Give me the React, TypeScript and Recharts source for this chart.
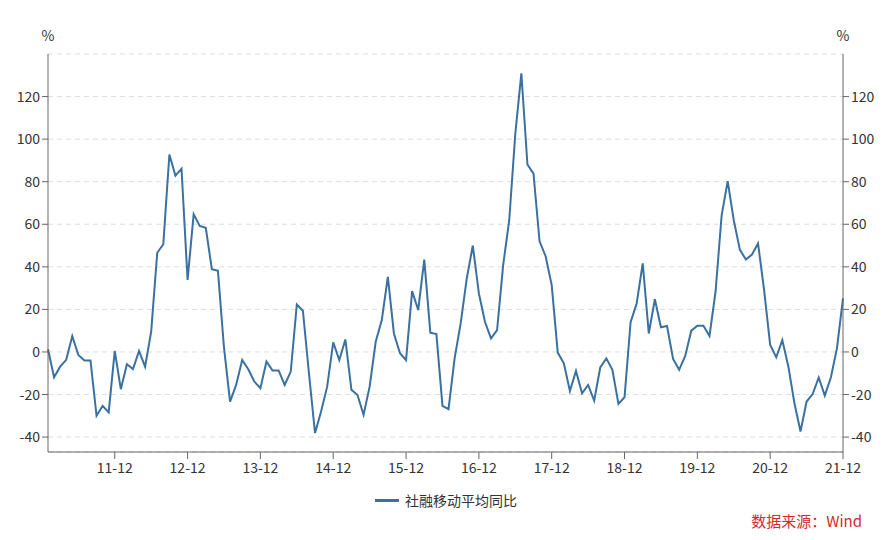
import { CartesianGrid, Legend, Line, LineChart, XAxis, YAxis } from "recharts";

// 月份 11-01 ... 21-12
const years = ["11", "12", "13", "14", "15", "16", "17", "18", "19", "20", "21"];
const monthNums = ["01", "02", "03", "04", "05", "06", "07", "08", "09", "10", "11", "12"];
const months = years.flatMap((y) => monthNums.map((m) => `${y}-${m}`));

// 社融移动平均同比 (%)，每行一年
const tsfYoy = [
  1.3, -11.9, -6.9, -3.7, 7.5, -1.4, -4, -4, -30, -25.3, -28.4, 0.5,
  -17.5, -5.8, -8, 0.5, -6.9, 9.5, 46.6, 50.6, 92.8, 82.8, 86.1, 33.8,
  64.7, 59.2, 58.3, 38.9, 38.1, 2, -23.3, -15.5, -3.8, -8.1, -13.9, -17,
  -4.5, -8.7, -8.7, -15.5, -9.2, 22.3, 19.4, -10, -38.1, -28, -16.3, 4.5,
  -3.8, 5.9, -17.8, -20.2, -29.5, -16.3, 4.8, 15, 35.3, 8.7, -0.6, -3.8,
  28.6, 19.7, 43.4, 9.1, 8.4, -25.3, -26.9, -3, 13.4, 34.5, 50, 27.5,
  14.2, 6.4, 10.3, 40.8, 61.9, 102.5, 130.9, 88.1, 83.8, 52, 45, 31.4,
  -0.3, -5.3, -18.3, -8.9, -19.4, -15.5, -22.8, -7.3, -3, -8.4, -24.4, -21.3,
  14, 22.8, 41.6, 8.7, 24.8, 11.6, 12.2, -3.3, -8.4, -1.9, 10, 12.3,
  12.3, 7.5, 28.3, 64.2, 80.3, 61.9, 48.1, 43.4, 45.8, 51, 29.1, 3.3,
  -2.5, 5.6, -6.9, -24.1, -37.4, -23.3, -19.8, -12, -20.5, -12, 1.7, 25.2,
];

const xTicks = years.map((y) => `${y}-12`);
const yTicks = [-40, -20, 0, 20, 40, 60, 80, 100, 120];
const seriesName = "社融移动平均同比";

const data = months.map((m, i) => ({ month: m, value: tsfYoy[i] }));

const font = '"Noto Sans CJK SC", "Noto Sans", sans-serif';
const lineColor = "#3a71a0";
const axisColor = "#666";
const tickStyle = { fontSize: 14, fill: "#333", fontFamily: font };

function LegendContent() {
  return (
    <div style={{ height: 20, display: "flex", justifyContent: "center", alignItems: "center", fontFamily: font, fontSize: 14, color: "#333" }}>
      <span style={{ display: "inline-block", width: 24, height: 3, background: lineColor, marginRight: 6 }} />
      {seriesName}
    </div>
  );
}

export default function App() {
  return (
    <div style={{ position: "absolute", left: 0, top: 0, width: 892, height: 540, background: "#fff", fontFamily: font }}>
      <LineChart width={892} height={540} data={data} margin={{ top: 54, right: 0, bottom: 38, left: 0 }}>
        <CartesianGrid vertical={false} stroke="#ddd" strokeDasharray="5 4" yAxisId="left" />
        <XAxis
          dataKey="month"
          ticks={xTicks}
          height={30}
          tick={tickStyle}
          tickSize={7}
          tickMargin={4}
          stroke={axisColor}
        />
        <YAxis
          yAxisId="left"
          width={48}
          domain={[-47, 140]}
          ticks={yTicks}
          tick={tickStyle}
          tickSize={6}
          tickMargin={2}
          stroke={axisColor}
          allowDataOverflow
        />
        <YAxis
          yAxisId="right"
          orientation="right"
          width={49}
          domain={[-47, 140]}
          ticks={yTicks}
          tick={tickStyle}
          tickSize={6}
          tickMargin={2}
          stroke={axisColor}
          allowDataOverflow
        />
        <Legend verticalAlign="bottom" height={20} content={<LegendContent />} wrapperStyle={{ bottom: 30 }} />
        <Line
          yAxisId="left"
          type="linear"
          dataKey="value"
          name={seriesName}
          stroke={lineColor}
          strokeWidth={2}
          dot={false}
          isAnimationActive={false}
        />
      </LineChart>
      <span style={{ position: "absolute", left: 48, top: 35, transform: "translate(-50%, -50%)", fontSize: 14, color: "#333" }}>%</span>
      <span style={{ position: "absolute", left: 843, top: 35, transform: "translate(-50%, -50%)", fontSize: 14, color: "#333" }}>%</span>
      <span style={{ position: "absolute", right: 30, top: 520, transform: "translateY(-50%)", fontSize: 15, color: "#d42a2a" }}>
        数据来源：Wind
      </span>
    </div>
  );
}
